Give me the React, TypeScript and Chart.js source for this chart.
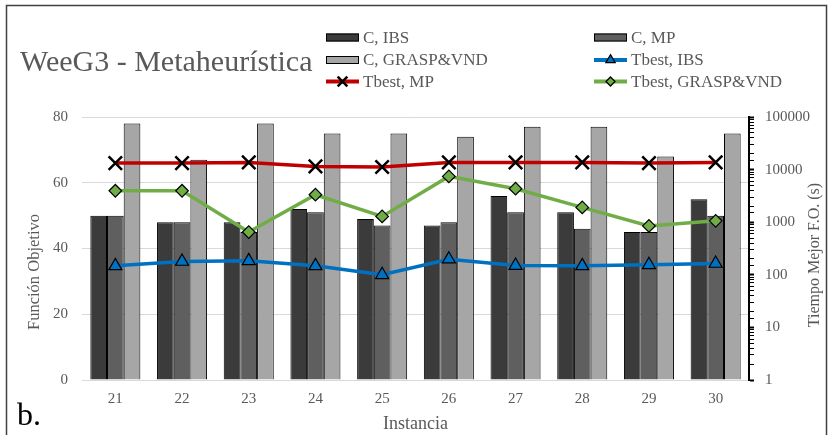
import React, { useEffect, useRef } from 'react';
import { Chart, registerables } from 'chart.js';

Chart.register(...registerables);

const categories = ['21', '22', '23', '24', '25', '26', '27', '28', '29', '30'];
const cIBS = [50, 48, 48, 52, 49, 47, 56, 51, 45, 55];
const cMP = [50, 48, 45, 51, 47, 48, 51, 46, 45, 50];
const cGRASP = [78, 67, 78, 75, 75, 74, 77, 77, 68, 75];
const tIBS = [148, 179, 184, 148, 100, 198, 150, 148, 155, 164];
const tMP = [13300, 13300, 13700, 11500, 11200, 13700, 13700, 13700, 13300, 13700];
const tGRASP = [3960, 3960, 650, 3330, 1290, 7430, 4330, 1910, 850, 1060];
const leftTicks = [0, 20, 40, 60, 80];
const rightTickLabels = [1, 10, 100, 1000, 10000, 100000];

const titleText = 'WeeG3 - Metaheurística';
const leftTitle = 'Función Objetivo';
const rightTitle = 'Tiempo Mejor F.O. (s)';
const xTitle = 'Instancia';
const panelLabel = 'b.';

const FONT = '"Liberation Serif", "Times New Roman", serif';
const GRAY = '#595959';

function drawMarker(ctx: CanvasRenderingContext2D, style: string, x: number, y: number, r: number, fill: string, lw: number) {
  ctx.save();
  ctx.beginPath();
  ctx.fillStyle = fill;
  ctx.strokeStyle = '#000';
  ctx.lineWidth = lw;
  if (style === 'triangle') {
    for (let k = 0; k < 3; k++) {
      const a = (k * 2 * Math.PI) / 3;
      const px = x + Math.sin(a) * r;
      const py = y - Math.cos(a) * r;
      if (k === 0) ctx.moveTo(px, py); else ctx.lineTo(px, py);
    }
    ctx.closePath();
    ctx.fill();
    ctx.stroke();
  } else if (style === 'rectRot') {
    ctx.moveTo(x - r, y);
    ctx.lineTo(x, y - r);
    ctx.lineTo(x + r, y);
    ctx.lineTo(x, y + r);
    ctx.closePath();
    ctx.fill();
    ctx.stroke();
  } else if (style === 'crossRot') {
    const o = Math.cos(Math.PI / 4) * r;
    ctx.moveTo(x - o, y - o);
    ctx.lineTo(x + o, y + o);
    ctx.moveTo(x - o, y + o);
    ctx.lineTo(x + o, y - o);
    ctx.stroke();
  }
  ctx.restore();
}

const overlayPlugin = {
  id: 'overlay',
  afterDraw(chart: any) {
    const ctx: CanvasRenderingContext2D = chart.ctx;
    ctx.save();
    // frame
    ctx.strokeStyle = '#404040';
    ctx.lineWidth = 1.5;
    ctx.strokeRect(6.5, 5.5, 820, 445);

    // title
    ctx.fillStyle = GRAY;
    ctx.textAlign = 'left';
    ctx.textBaseline = 'alphabetic';
    ctx.font = `30px ${FONT}`;
    ctx.fillText(titleText, 20, 71);

    // legend
    const colX = [326, 594];
    const rowY = [37.5, 60, 81.5];
    chart.data.datasets.forEach((ds: any, i: number) => {
      const x = colX[i % 2];
      const y = rowY[Math.floor(i / 2)];
      if ((ds.type || 'bar') === 'bar') {
        ctx.fillStyle = ds.backgroundColor;
        ctx.fillRect(x, y - 4, 33, 8);
        ctx.strokeStyle = '#000';
        ctx.lineWidth = 1;
        ctx.strokeRect(x + 0.5, y - 3.5, 32, 7);
      } else {
        ctx.strokeStyle = ds.borderColor;
        ctx.lineWidth = 4;
        ctx.beginPath();
        ctx.moveTo(x, y);
        ctx.lineTo(x + 33, y);
        ctx.stroke();
        drawMarker(ctx, ds.pointStyle, x + 16.5, y, ds.pointRadius * 0.72, ds.pointBackgroundColor, ds.pointBorderWidth);
      }
      ctx.fillStyle = GRAY;
      ctx.font = `17px ${FONT}`;
      ctx.textAlign = 'left';
      ctx.textBaseline = 'middle';
      ctx.fillText(ds.label, x + 37, y + 1);
    });

    // axis titles
    ctx.fillStyle = GRAY;
    ctx.textAlign = 'center';
    ctx.textBaseline = 'middle';
    ctx.font = `16.5px ${FONT}`;
    ctx.save();
    ctx.translate(35, 272);
    ctx.rotate(-Math.PI / 2);
    ctx.fillText(leftTitle, 0, 0);
    ctx.restore();

    ctx.save();
    ctx.translate(815, 255);
    ctx.rotate(-Math.PI / 2);
    ctx.font = `16px ${FONT}`;
    ctx.fillText(rightTitle, 0, 0);
    ctx.restore();

    ctx.font = `18px ${FONT}`;
    ctx.fillText(xTitle, 415.5, 424);

    // panel label
    ctx.fillStyle = '#000';
    ctx.textAlign = 'left';
    ctx.textBaseline = 'alphabetic';
    ctx.font = `32px ${FONT}`;
    ctx.fillText(panelLabel, 17, 425);
    ctx.restore();
  },
};

export default function App() {
  const ref = useRef<HTMLCanvasElement>(null);
  useEffect(() => {
    if (!ref.current) return;
    const barCommon = {
      type: 'bar' as const,
      yAxisID: 'y',
      borderColor: '#000',
      borderWidth: 1,
      categoryPercentage: 0.75,
      barPercentage: 1,
      order: 2,
    };
    const lineCommon = {
      type: 'line' as const,
      yAxisID: 'y1',
      borderWidth: 3.5,
      tension: 0,
      pointBorderColor: '#000',
      order: 1,
    };
    const chart = new Chart(ref.current, {
      type: 'bar',
      data: {
        labels: categories,
        datasets: [
          { ...barCommon, label: 'C, IBS', data: cIBS, backgroundColor: '#3b3b3b' },
          { ...barCommon, label: 'C, MP', data: cMP, backgroundColor: '#5f5f5f' },
          { ...barCommon, label: 'C, GRASP&VND', data: cGRASP, backgroundColor: '#a6a6a6' },
          {
            ...lineCommon, label: 'Tbest, IBS', data: tIBS, borderColor: '#0070c0',
            pointStyle: 'triangle', pointRadius: 7.5, pointBackgroundColor: '#0070c0', pointBorderWidth: 1.2,
          },
          {
            ...lineCommon, label: 'Tbest, MP', data: tMP, borderColor: '#c00000',
            pointStyle: 'crossRot', pointRadius: 9.5, pointBackgroundColor: '#000', pointBorderWidth: 2.5,
          },
          {
            ...lineCommon, label: 'Tbest, GRASP&VND', data: tGRASP, borderColor: '#70ad47',
            pointStyle: 'rectRot', pointRadius: 6.3, pointBackgroundColor: '#70ad47', pointBorderWidth: 1.2,
          },
        ] as any,
      },
      options: {
        responsive: false,
        animation: false,
        layout: { padding: { top: 117, left: 0, right: 0, bottom: 0 } },
        plugins: { legend: { display: false }, tooltip: { enabled: false }, title: { display: false } },
        scales: {
          x: {
            type: 'category',
            grid: { display: false, drawTicks: false },
            border: { display: false },
            ticks: { color: GRAY, font: { family: FONT, size: 15 }, padding: 10 },
            afterFit: (s: any) => { s.height = 55; },
          },
          y: {
            type: 'linear',
            position: 'left',
            min: leftTicks[0],
            max: leftTicks[leftTicks.length - 1],
            afterBuildTicks: (s: any) => { s.ticks = leftTicks.map((v) => ({ value: v })); },
            grid: { color: '#d9d9d9', lineWidth: 1, drawTicks: false },
            border: { display: false },
            ticks: { color: GRAY, font: { family: FONT, size: 15 }, padding: 14 },
            afterFit: (s: any) => { s.width = 82; },
          },
          y1: {
            type: 'logarithmic',
            position: 'right',
            min: rightTickLabels[0],
            max: rightTickLabels[rightTickLabels.length - 1],
            grid: {
              drawOnChartArea: false,
              color: '#000',
              tickLength: 5,
              tickWidth: (c: any) => {
                const v = c.tick ? c.tick.value : 0;
                return rightTickLabels.some((t) => Math.abs(t - v) < 1e-6 * t) ? 2 : 1;
              },
            },
            border: { display: true, color: '#000', width: 2 },
            ticks: {
              autoSkip: false,
              color: GRAY,
              font: { family: FONT, size: 15 },
              padding: 11,
              callback: (v: any) => {
                const t = rightTickLabels.find((t) => Math.abs(t - Number(v)) < 1e-6 * t);
                return t !== undefined ? String(t) : '';
              },
            },
            afterFit: (s: any) => { s.width = 81; },
          },
        },
      } as any,
      plugins: [overlayPlugin],
    });
    return () => chart.destroy();
  }, []);
  return (
    <div style={{ position: 'fixed', left: 0, top: 0, width: 830, height: 435, background: '#fff' }}>
      <canvas ref={ref} width={830} height={435} style={{ width: 830, height: 435, display: 'block' }} />
    </div>
  );
}
